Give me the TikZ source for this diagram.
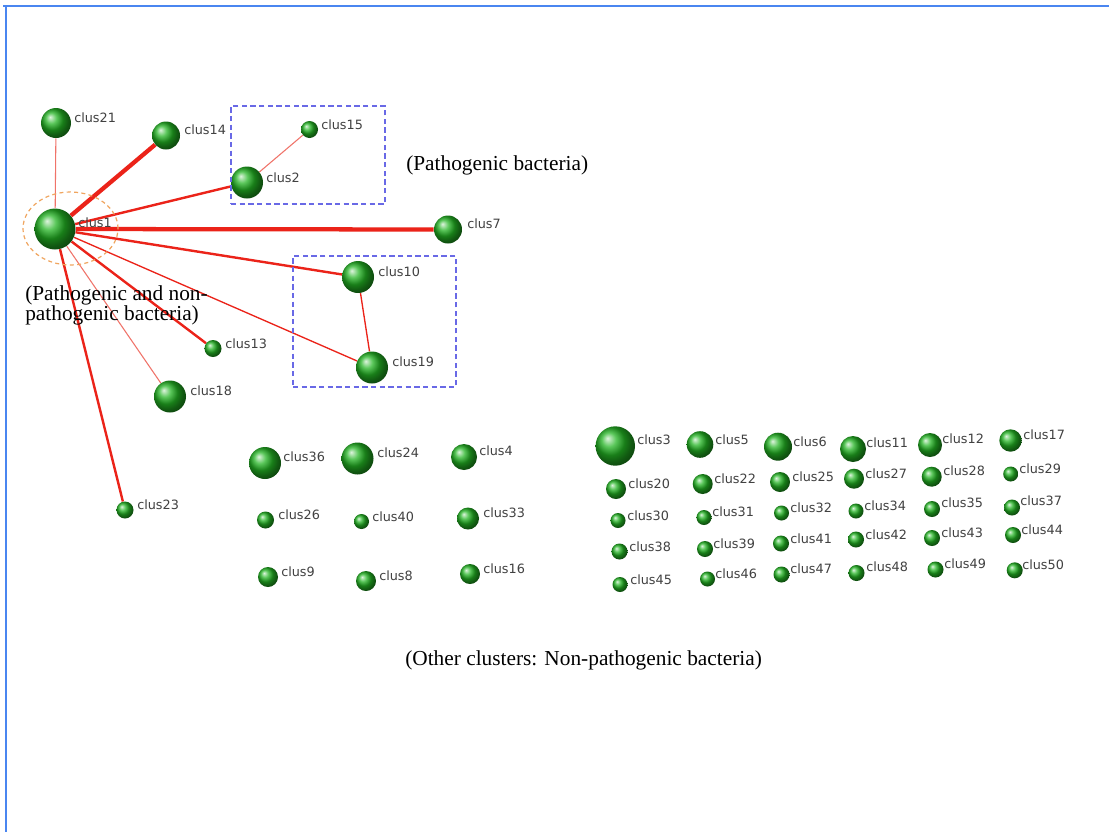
\documentclass[tikz,border=0pt]{standalone}
\usepackage{fontspec}
\setmainfont{Liberation Serif}
\newfontfamily\labelfont{DejaVu Sans}
\usetikzlibrary{shapes.geometric,backgrounds}

\definecolor{ballgreen}{RGB}{35,180,35}
\definecolor{edgered}{RGB}{235,35,25}
\definecolor{edgepink}{RGB}{240,115,105}
\definecolor{frameblue}{RGB}{74,134,240}
\definecolor{groupblue}{RGB}{105,105,230}
\definecolor{ringorange}{RGB}{240,165,95}
\definecolor{labelgray}{RGB}{65,65,65}

\tikzset{
  ball/.style={circle, inner sep=0pt, shade, shading=ball, ball color=ballgreen},
  clabel/.style={anchor=west, inner sep=0pt, text=labelgray,
    font=\labelfont\fontsize{9.6}{11}\selectfont},
  note/.style={anchor=base west, inner sep=0pt, font=\fontsize{16}{15}\selectfont},
  group/.style={draw=groupblue, dash pattern=on 4pt off 2.5pt, line width=1.4pt,
    inner sep=0pt},
  heavy/.style={draw=edgered, line width=3.2pt},
  medium/.style={draw=edgered, line width=1.8pt},
  light/.style={draw=edgered, line width=1pt},
  faint/.style={draw=edgepink, line width=0.8pt},
}

% cluster sphere (#1) at (#2,#3), radius #4, label west end at (#5,#6)
\newcommand\clusnode[6]{%
  \node[ball, minimum size=1.5*#4 pt] (#1) at (#2,#3) {};
  \node[clabel] (#1-l) at (#5,#6) {#1};}

\begin{document}
\begin{tikzpicture}[x=0.75pt, y=-0.75pt]
\useasboundingbox (0,0) rectangle (1109,832);

% frame
\coordinate (f-tl) at (6,6);
\coordinate (f-tr) at (1109,6);
\coordinate (f-bl) at (6,832);
\draw[frameblue, line width=2.2pt] (f-tr) -- (3,6) (f-tl) -- (f-bl);

% connected cluster group
\clusnode{clus1}{55}{229}{20.5}{78}{223}
\clusnode{clus21}{56}{123}{15}{74}{118}
\clusnode{clus14}{166}{135.5}{14}{184}{130}
\clusnode{clus2}{247}{182.5}{16}{266}{178}
\clusnode{clus15}{309.5}{129.5}{8.5}{321}{125}
\clusnode{clus7}{448}{229.5}{14}{467}{224}
\clusnode{clus10}{358}{277}{16}{378}{272}
\clusnode{clus19}{372}{367.5}{16}{392}{362}
\clusnode{clus13}{213}{348.5}{8.5}{225}{344}
\clusnode{clus18}{170}{396.5}{16}{190}{391}
\clusnode{clus23}{125}{510}{8.5}{137}{505}

% ring round clus1 and dashed groups
\node[draw=ringorange, dash pattern=on 3pt off 2.5pt, line width=0.9pt, ellipse,
  minimum width=0.75*95pt, minimum height=0.75*73pt, inner sep=0pt] (ring) at (70.5,228.5) {};
\node[group, minimum width=0.75*154pt, minimum height=0.75*98pt] (patho1) at (308,155) {};
\node[group, minimum width=0.75*163pt, minimum height=0.75*131pt] (patho2) at (374.5,321.5) {};

\begin{pgfonlayer}{background}
  \fill[white] (0,0) rectangle (1109,832);
  \draw[faint]  (clus1) -- (clus21);
  \draw[heavy]  (clus1) -- (clus14);
  \draw[medium] (clus1) -- (clus2);
  \draw[heavy]  (clus1) -- (clus7);
  \draw[medium] (clus1) -- (clus10);
  \draw[light]  (clus1) -- (clus19);
  \draw[medium] (clus1) -- (clus13);
  \draw[faint]  (clus1) -- (clus18);
  \draw[medium] (clus1) -- (clus23);
  \draw[faint]  (clus2) -- (clus15);
  \draw[light]  (clus10) -- (clus19);
\end{pgfonlayer}

% isolated clusters, left block
\clusnode{clus36}{265}{463}{16}{283}{457}
\clusnode{clus24}{357.5}{458.5}{16}{377}{453}
\clusnode{clus4}{464}{457}{13}{479}{451}
\clusnode{clus26}{265.5}{520}{8.5}{278}{515}
\clusnode{clus40}{361.5}{521.5}{7.5}{372}{517}
\clusnode{clus33}{468}{518.5}{11}{483}{513}
\clusnode{clus9}{268}{577}{10}{281}{572}
\clusnode{clus8}{366}{581}{10}{379}{576}
\clusnode{clus16}{470}{574}{10}{483}{569}

% isolated clusters, right block
\clusnode{clus3}{615.3}{446}{19.7}{637}{440}
\clusnode{clus5}{700}{444.5}{13.3}{715}{440}
\clusnode{clus6}{778}{446.7}{14}{793}{442}
\clusnode{clus11}{853}{449}{13}{866}{443}
\clusnode{clus12}{930}{445}{12}{942}{439}
\clusnode{clus17}{1010.5}{440.5}{11.2}{1023}{435}

\clusnode{clus20}{616}{489}{10}{628}{484}
\clusnode{clus22}{702.7}{484}{10}{714}{479}
\clusnode{clus25}{780}{482}{10}{792}{477}
\clusnode{clus27}{854}{478.7}{10}{865}{474}
\clusnode{clus28}{931.7}{476.7}{10}{943}{471}
\clusnode{clus29}{1010.7}{474}{7.5}{1019}{469}

\clusnode{clus30}{618}{520.5}{7.5}{627}{516}
\clusnode{clus31}{704}{517.5}{7.5}{712}{512}
\clusnode{clus32}{781.5}{513}{7.5}{790}{508}
\clusnode{clus34}{856}{511}{7.5}{864}{506}
\clusnode{clus35}{932}{509}{8}{941}{503}
\clusnode{clus37}{1012}{507.5}{8}{1020}{501}

\clusnode{clus38}{619.5}{551.5}{8}{629}{547}
\clusnode{clus39}{705}{549}{8}{713}{544}
\clusnode{clus41}{781}{543.5}{8}{790}{539}
\clusnode{clus42}{856}{539.5}{8}{865}{535}
\clusnode{clus43}{932}{538}{8}{941}{533}
\clusnode{clus44}{1013}{535}{8}{1021}{530}

\clusnode{clus45}{620}{584.5}{7.5}{630}{580}
\clusnode{clus46}{707.5}{579}{7.5}{715}{574}
\clusnode{clus47}{781.5}{574.5}{8}{790}{569}
\clusnode{clus48}{856.5}{573}{8}{866}{567}
\clusnode{clus49}{935.5}{569.5}{8}{944}{564}
\clusnode{clus50}{1014.7}{570.3}{8}{1022}{565}

% annotations
\node[note] (note-patho) at (406,170) {(Pathogenic bacteria)};
\node[note] (note-mixed-a) at (25,300.7) {(Pathogenic and non-};
\node[note] (note-mixed-b) at (25,320.5) {pathogenic bacteria)};
\node[note] (note-other) at (405,665) {(Other clusters: Non-pathogenic bacteria)};
\end{tikzpicture}
\end{document}
